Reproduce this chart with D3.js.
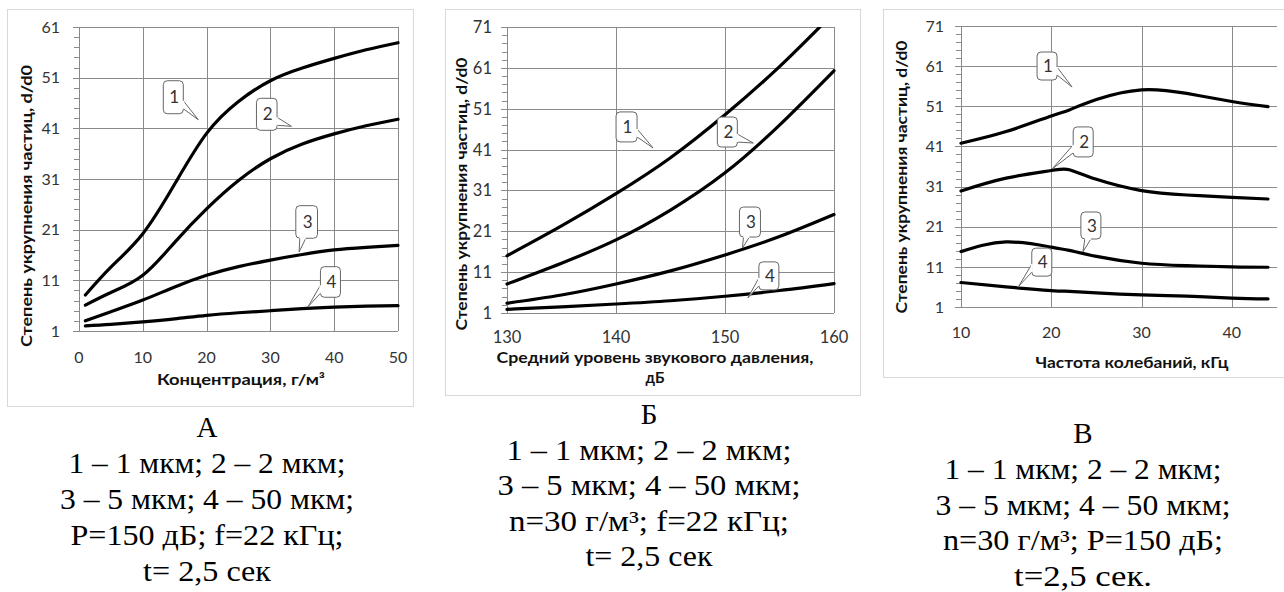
<!DOCTYPE html>
<html>
<head>
<meta charset="utf-8">
<script src="https://cdn.jsdelivr.net/npm/d3@7"></script>
<style>
  body { margin: 0; background: #fff; }
  svg { display: block; }
  .cap { font-family: "Times New Roman", "Liberation Serif", serif; font-size: 29px; }
  .sans { font-family: Lato, "Open Sans", sans-serif; }
</style>
</head>
<body>
<svg id="chart" width="1284" height="592"></svg>
<script>
// ---- Panel А: degree of particle enlargement vs dust concentration ----
const concX  = [1, 5, 10, 15, 20, 25, 30, 35, 40, 45, 50];
const concY1 = [8.1, 13.6, 20.2, 30.0, 40.0, 46.3, 50.4, 52.9, 54.8, 56.5, 57.9];
const concY2 = [6.1, 8.6, 12.0, 18.5, 25.1, 30.7, 35.0, 37.9, 39.9, 41.5, 42.8];
const concY3 = [3.0, 4.8, 7.1, 9.7, 12.0, 13.7, 15.0, 16.1, 17.0, 17.5, 17.9];
const concY4 = [2.0, 2.3, 2.8, 3.4, 4.1, 4.6, 5.0, 5.4, 5.7, 5.9, 6.0];

// ---- Panel Б: vs mean sound pressure level ----
const splX  = [130, 135, 140, 145, 150, 155, 160];
const splY1 = [15.0, 22.3, 30.2, 39.0, 49.5, 61.3, 74.5];
const splY2 = [8.1, 13.2, 18.9, 26.2, 35.3, 47.0, 60.3];
const splY3 = [3.4, 5.4, 8.1, 11.3, 15.2, 19.7, 25.1];
const splY4 = [1.9, 2.5, 3.2, 4.0, 5.1, 6.5, 8.2];

// ---- Panel В: vs oscillation frequency ----
const freqX  = [10, 15, 20, 22, 25, 30, 35, 40, 44];
const freqY1 = [41.8, 44.7, 48.6, 50.1, 52.7, 55.1, 54.2, 52.2, 50.9];
const freqY2 = [29.9, 33.1, 35.0, 35.2, 32.8, 30.0, 28.9, 28.3, 27.9];
const freqY3 = [14.8, 17.2, 15.9, 15.1, 13.6, 11.9, 11.3, 11.0, 10.9];
const freqY4 = [7.1, 6.0, 5.1, 4.9, 4.5, 4.0, 3.7, 3.2, 3.0];

// ---- Axis ticks ----
const ticksAX = [0, 10, 20, 30, 40, 50];
const ticksAY = [1, 11, 21, 31, 41, 51, 61];
const ticksBX = [130, 140, 150, 160];
const ticksBY = [1, 11, 21, 31, 41, 51, 61, 71];
const ticksCX = [10, 20, 30, 40];
const ticksCY = [1, 11, 21, 31, 41, 51, 61, 71];

// ---- Curve labels and the points their callouts point at (data units) ----
const curveLabels = ["1", "2", "3", "4"];
const calloutTipsA = [[18.7, 42.7], [33.3, 41.4], [34.5, 16.6], [35.9, 5.8]];
const calloutTipsB = [[143.4, 41.4], [152.6, 42.6], [151.6, 16.9], [152.1, 4.7]];
const calloutTipsC = [[22.3, 55.8], [20.1, 35.4], [23.5, 14.7], [16.4, 6.2]];

// ---- Texts ----
const yTitle = "Степень укрупнения частиц, d/d0";
const xTitleA = ["Концентрация, г/м³"];
const xTitleB = ["Средний уровень звукового  давления,", "дБ"];
const xTitleC = ["Частота колебаний, кГц"];
const captionA = ["А", "1 – 1 мкм; 2 – 2 мкм;", "3 – 5 мкм; 4 – 50 мкм;", "P=150 дБ; f=22 кГц;", "t= 2,5 сек"];
const captionB = ["Б", "1 – 1 мкм; 2 – 2 мкм;", "3 – 5 мкм; 4 – 50 мкм;", "n=30 г/м³; f=22 кГц;", "t= 2,5 сек"];
const captionC = ["В", "1 – 1 мкм; 2 – 2 мкм;", "3 – 5 мкм; 4 – 50 мкм;", "n=30 г/м³; P=150 дБ;", "t=2,5 сек."];

// ---- Layout ----
const panels = [
  {
    xs: concX, ys: [concY1, concY2, concY3, concY4],
    xDomain: [0, 50], yDomain: [1, 61], xTicks: ticksAX, yTicks: ticksAY,
    frame: [7, 9, 406, 397], px: [79, 398], py: [331, 27],
    tickFont: 16, yLabelGap: 19, xLabelDy: 32,
    yTitlePos: [27, 206], yTitleLen: 282,
    xTitle: xTitleA, xTitlePos: [241, 385], xTitleLens: [168],
    tips: calloutTipsA,
    boxes: [[-35, -39, -15, -6], [-35, -28, -14.4, 4], [-3.3, -46.3, 18.4, -13.7], [12.4, -40, 32.4, -9.4]],
    caption: captionA, capX: 207, capY: [437, 473, 509, 545, 581], capW: [null, 277, 294, 273, 128]
  },
  {
    xs: splX, ys: [splY1, splY2, splY3, splY4],
    xDomain: [130, 160], yDomain: [1, 71], xTicks: ticksBX, yTicks: ticksBY,
    frame: [445, 9, 415, 386], px: [507, 834], py: [313, 27],
    tickFont: 16.5, yLabelGap: 15, xLabelDy: 30,
    yTitlePos: [462, 194], yTitleLen: 273,
    xTitle: xTitleB, xTitlePos: [655, 363], xTitleLens: [317, null],
    tips: calloutTipsB,
    boxes: [[-37, -36, -16, -6], [-36, -26, -16, 4], [-3, -41, 18, -11], [11, -36, 31, -8]],
    caption: captionB, capX: 649, capY: [424, 459.5, 495, 530.5, 566], capW: [null, 285, 303, 280, 127]
  },
  {
    xs: freqX, ys: [freqY1, freqY2, freqY3, freqY4],
    xDomain: [10, 45], yDomain: [1, 71], xTicks: ticksCX, yTicks: ticksCY,
    frame: [883, 9, 410, 368], px: [961, 1277], py: [307, 26],
    tickFont: 16, yLabelGap: 17, xLabelDy: 31,
    yTitlePos: [902, 177], yTitleLen: 273,
    xTitle: xTitleC, xTitlePos: [1132, 368], xTitleLens: [193],
    tips: calloutTipsC,
    boxes: [[-35, -35, -15, -7], [21, -42, 41, -12], [-2, -40, 18, -13], [13, -38, 33, -10]],
    caption: captionC, capX: 1083, capY: [443, 479, 514.5, 550, 585.5], capW: [null, 277, 295, 280, 138]
  }
];

const svg = d3.select("#chart");
const gridColor = "#8a8a8a";

panels.forEach((p, pi) => {
  const g = svg.append("g");
  const x = d3.scaleLinear().domain(p.xDomain).range(p.px);
  const y = d3.scaleLinear().domain(p.yDomain).range(p.py);

  // chart frame
  g.append("rect")
    .attr("x", p.frame[0] + 0.5).attr("y", p.frame[1] + 0.5)
    .attr("width", p.frame[2]).attr("height", p.frame[3])
    .attr("fill", "#fff").attr("stroke", "#d9d9d9");

  const styleTicks = s => {
    s.select(".domain").remove();
    s.selectAll("line").attr("stroke", gridColor).attr("shape-rendering", "crispEdges");
  };

  // horizontal gridlines (major y ticks)
  g.append("g")
    .attr("transform", `translate(${p.px[0]},0)`)
    .call(d3.axisLeft(y).tickValues(p.yTicks).tickSize(-(p.px[1] - p.px[0])).tickFormat(""))
    .call(styleTicks);

  // outer major tick marks on the y axis
  g.append("g")
    .attr("transform", `translate(${p.px[0]},0)`)
    .call(d3.axisLeft(y).tickValues(p.yTicks).tickSize(6).tickFormat(""))
    .call(styleTicks);

  // minor tick marks every 2 units
  const minor = d3.range(p.yDomain[0], p.yDomain[1] + 0.01, 2).filter(v => !p.yTicks.includes(v));
  g.append("g")
    .attr("transform", `translate(${p.px[0]},0)`)
    .call(d3.axisLeft(y).tickValues(minor).tickSize(5).tickFormat(""))
    .call(styleTicks);

  // vertical gridlines
  g.append("g")
    .attr("transform", `translate(0,${p.py[0]})`)
    .call(d3.axisBottom(x).tickValues(p.xTicks).tickSize(-(p.py[0] - p.py[1])).tickFormat(""))
    .call(styleTicks);

  // axis lines
  g.append("line")
    .attr("x1", p.px[0]).attr("x2", p.px[0]).attr("y1", p.py[0]).attr("y2", p.py[1])
    .attr("stroke", gridColor).attr("shape-rendering", "crispEdges");
  g.append("line")
    .attr("x1", p.px[0]).attr("x2", p.px[1]).attr("y1", p.py[0]).attr("y2", p.py[0])
    .attr("stroke", gridColor).attr("shape-rendering", "crispEdges");

  // y tick labels
  g.append("g").selectAll("text").data(p.yTicks).join("text")
    .attr("class", "sans")
    .attr("x", p.px[0] - p.yLabelGap).attr("y", d => y(d)).attr("dy", "0.36em")
    .attr("text-anchor", "end").attr("font-size", p.tickFont)
    .attr("fill", "#333").text(d => d);

  // x tick labels
  g.append("g").selectAll("text").data(p.xTicks).join("text")
    .attr("class", "sans")
    .attr("x", d => x(d)).attr("y", p.py[0] + p.xLabelDy)
    .attr("text-anchor", "middle").attr("font-size", p.tickFont)
    .attr("fill", "#333").text(d => d);

  // y axis title
  g.append("text")
    .attr("class", "sans")
    .attr("transform", `translate(${p.yTitlePos[0]},${p.yTitlePos[1]}) rotate(-90)`)
    .attr("dy", "0.35em").attr("text-anchor", "middle")
    .attr("font-size", 15).attr("font-weight", "bold")
    .attr("fill", "#111")
    .attr("textLength", p.yTitleLen).attr("lengthAdjust", "spacingAndGlyphs")
    .text(yTitle);

  // x axis title (one or two lines)
  p.xTitle.forEach((t, i) => {
    const tx = g.append("text")
      .attr("class", "sans")
      .attr("x", p.xTitlePos[0]).attr("y", p.xTitlePos[1] + i * 20)
      .attr("text-anchor", "middle")
      .attr("font-size", 15).attr("font-weight", "bold")
      .attr("fill", "#111").text(t);
    if (p.xTitleLens[i]) tx.attr("textLength", p.xTitleLens[i]).attr("lengthAdjust", "spacingAndGlyphs");
  });

  // curves, clipped to the plot area
  const clipId = "clip" + pi;
  g.append("clipPath").attr("id", clipId).append("rect")
    .attr("x", p.px[0] - 2).attr("y", p.py[1])
    .attr("width", p.px[1] - p.px[0] + 6).attr("height", p.py[0] - p.py[1] + 4);
  const line = d3.line()
    .x(d => x(d[0])).y(d => y(d[1]))
    .curve(d3.curveNatural);
  g.append("g").attr("clip-path", `url(#${clipId})`)
    .selectAll("path").data(p.ys).join("path")
    .attr("d", vals => line(p.xs.map((xv, i) => [xv, vals[i]])))
    .attr("fill", "none").attr("stroke", "#000").attr("stroke-width", 3.2)
    .attr("stroke-linecap", "round").attr("stroke-linejoin", "round");

  // numbered callouts
  p.tips.forEach((tip, i) => {
    const tx = x(tip[0]), ty = y(tip[1]);
    const b = p.boxes[i];
    const L = tx + b[0], T = ty + b[1], R = tx + b[2], B = ty + b[3];
    let base;
    if (tx > R) base = [[R, B - 13], [R, B - 5]];
    else if (tx < L) base = [[L, B - 12], [L, B - 4]];
    else base = [[L + 4, B], [L + 10, B]];
    const cg = g.append("g");
    cg.append("rect")
      .attr("x", L).attr("y", T).attr("width", R - L).attr("height", B - T).attr("rx", 4)
      .attr("fill", "#fff").attr("stroke", "#666").attr("stroke-width", 1);
    cg.append("path")
      .attr("d", `M${base[0][0]},${base[0][1]}L${tx},${ty}L${base[1][0]},${base[1][1]}`)
      .attr("fill", "#fff").attr("stroke", "#666").attr("stroke-width", 1);
    cg.append("line")
      .attr("x1", base[0][0]).attr("y1", base[0][1]).attr("x2", base[1][0]).attr("y2", base[1][1])
      .attr("stroke", "#fff").attr("stroke-width", 2);
    cg.append("text")
      .attr("class", "sans")
      .attr("x", (L + R) / 2 + 1).attr("y", (T + B) / 2 + 6)
      .attr("text-anchor", "middle").attr("font-size", 17)
      .attr("fill", "#333").text(curveLabels[i]);
  });

  // caption below the chart
  p.caption.forEach((t, i) => {
    const ct = svg.append("text")
      .attr("class", "cap")
      .attr("x", p.capX).attr("y", p.capY[i])
      .attr("text-anchor", "middle")
      .attr("fill", "#000").text(t);
    if (p.capW[i]) ct.attr("textLength", p.capW[i]).attr("lengthAdjust", "spacingAndGlyphs");
  });
});
</script>
</body>
</html>
